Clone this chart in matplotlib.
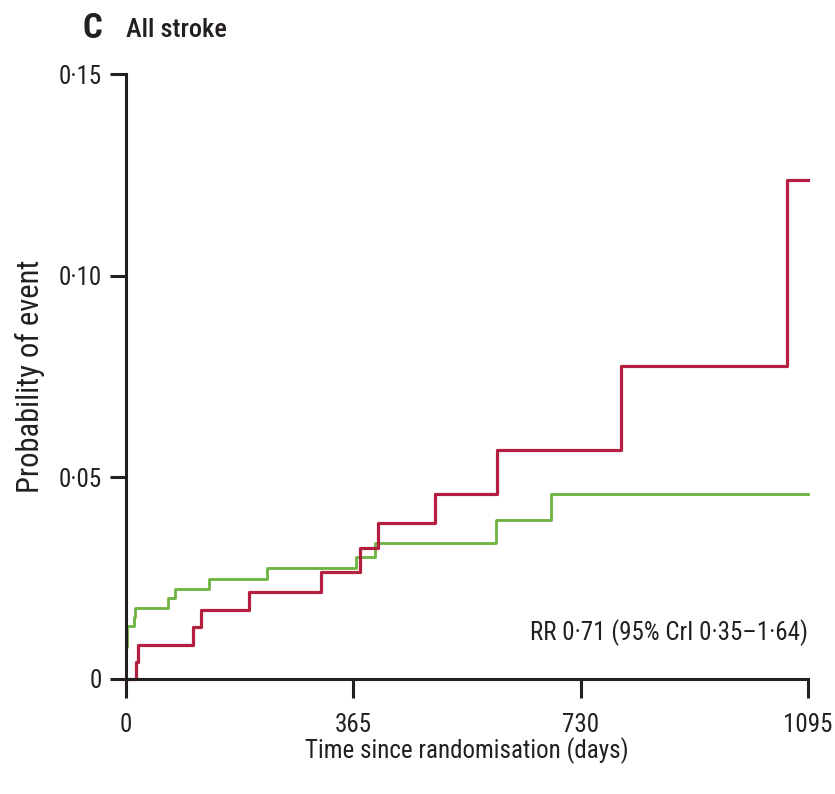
import matplotlib.pyplot as plt

# step curves (days, cumulative probability)
red_days = [0, 16, 19, 108, 121, 197, 313, 376, 405, 496, 595, 794, 1062, 1095]
red_prob = [0, 0.0043, 0.0084, 0.0128, 0.0171, 0.0215, 0.0266, 0.0324, 0.0386,
            0.0459, 0.0568, 0.0775, 0.1236, 0.1236]

green_days = [0, 1, 13, 15, 68, 78, 134, 226, 369, 400, 594, 683, 1095]
green_prob = [0.008, 0.0131, 0.0153, 0.0177, 0.0200, 0.0224, 0.0247, 0.0274,
              0.0303, 0.0336, 0.0394, 0.0459, 0.0459]

x_ticks = [0, 365, 730, 1095]
y_ticks = [0, 0.05, 0.10, 0.15]
y_ticklabels = ["0", "0\u00b705", "0\u00b710", "0\u00b715"]

plt.rcParams['font.family'] = ['Roboto Condensed', 'DejaVu Sans']
plt.rcParams['font.stretch'] = 'condensed'
ink = '#231F20'

fig = plt.figure(figsize=(8.35, 7.94), dpi=100)
ax = fig.add_axes([126/835, 1 - 679/794, 682/835, 605/794])

ax.step(green_days, green_prob, where='post', color='#6DB33F', lw=2.0, clip_on=False)
ax.step(red_days, red_prob, where='post', color='#B41F40', lw=2.3, clip_on=False)

ax.set_xlim(0, 1095)
ax.set_ylim(0, 0.15)
ax.set_xticks(x_ticks)
ax.set_xticklabels([str(t) for t in x_ticks])
ax.set_yticks(y_ticks)
ax.set_yticklabels(y_ticklabels)

for s in ['top', 'right']:
    ax.spines[s].set_visible(False)
for s in ['left', 'bottom']:
    ax.spines[s].set_linewidth(2.2)
    ax.spines[s].set_color(ink)
ax.tick_params(axis='both', direction='out', width=2.2, color=ink,
               labelsize=18, labelcolor=ink)
ax.tick_params(axis='x', length=13.5, pad=11)
ax.tick_params(axis='y', length=11.5, pad=6)

# axis labels placed by hand, centred on the spots seen in the reference
ax.set_xlabel("Time since randomisation (days)", fontsize=18, color=ink, va='center')
ax.xaxis.set_label_coords(0.5, -(751 - 679) / 605)
ax.set_ylabel("Probability of event", fontsize=22, color=ink, va='center', ha='center')
ax.yaxis.set_label_coords(-(126 - 30) / 682, 0.5)

ax.text(1095, 0.0115, "RR 0\u00b771 (95% CrI 0\u00b735\u20131\u00b764)", ha='right', va='center',
        fontsize=18, color=ink)

fig.text(92/835, 1 - 28/794, "C", fontsize=25, fontweight='bold', color=ink,
         va='center', ha='center')
fig.text(126/835, 1 - 30/794, "All stroke", fontsize=19, fontweight='medium', color=ink,
         va='center', ha='left')

plt.savefig("out.png", dpi=100)
plt.close()
